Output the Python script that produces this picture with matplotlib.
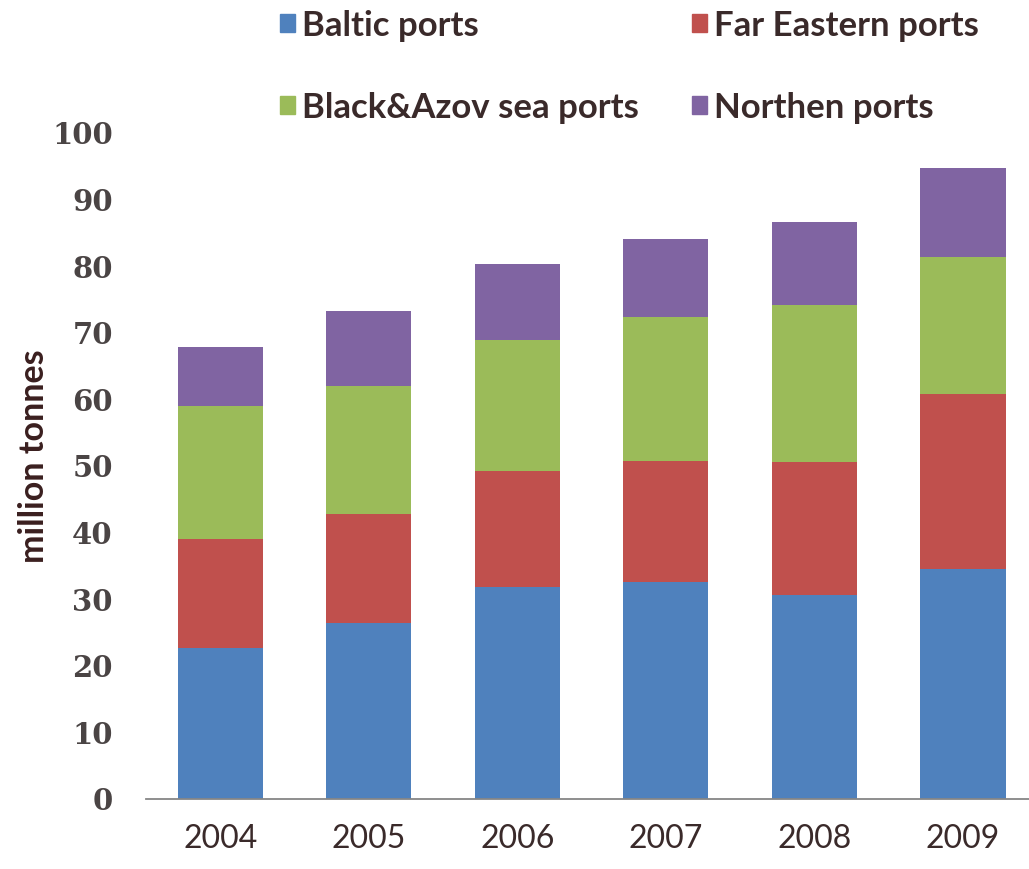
import numpy as np
import matplotlib
matplotlib.use("Agg")
import matplotlib.pyplot as plt
from matplotlib.patches import Patch

# cargo turnover of Russian sea ports, million tonnes
years = ["2004", "2005", "2006", "2007", "2008", "2009"]
baltic = [22.7, 26.4, 31.9, 32.6, 30.6, 34.5]
far_eastern = [16.3, 16.4, 17.4, 18.2, 20.0, 26.3]
black_azov = [20.0, 19.2, 19.6, 21.6, 23.6, 20.6]
northern = [8.9, 11.2, 11.4, 11.7, 12.4, 13.3]

series = [
    ("Baltic ports", baltic, "#4F81BD"),
    ("Far Eastern ports", far_eastern, "#C0504D"),
    ("Black&Azov sea ports", black_azov, "#9BBB59"),
    ("Northen ports", northern, "#8064A2"),
]

narrow = ["Lato", "DejaVu Sans"]
txt_col = "#3a2a2a"

fig = plt.figure(figsize=(10.29, 8.69), dpi=100)
ax = fig.add_axes([0.142, 0.0806, 0.866, 0.7664])

x = np.arange(len(years))
bottom = np.zeros(len(years))
for name, vals, col in series:
    ax.bar(x, vals, width=0.573, bottom=bottom, color=col, label=name)
    bottom += np.array(vals)

ax.set_xlim(-0.5, len(years) - 0.5)
ax.set_ylim(0, 100)
ax.set_yticks(range(0, 101, 10))
ax.set_xticks(x)
ax.set_xticklabels(years, family=narrow, fontsize=23, color=txt_col)
for lab in ax.get_yticklabels():
    lab.set_family(["DejaVu Serif"])
    lab.set_fontweight("bold")
    lab.set_fontsize(21)
    lab.set_color("#4a4444")
ax.tick_params(axis="x", length=0, pad=18)
ax.tick_params(axis="y", length=0, pad=24)

for s in ["top", "right", "left"]:
    ax.spines[s].set_visible(False)
ax.spines["bottom"].set_color("#868686")
ax.spines["bottom"].set_linewidth(1.3)

ax.set_ylabel("million tonnes", family=narrow, fontweight="bold",
              fontsize=24.5, color="#3a1f1f")
ax.yaxis.set_label_coords(-0.108, 0.515)

# legend: two rows, two columns
handles = [Patch(color=c, label=n) for n, _, c in series]
order = [0, 2, 1, 3]
fig.legend([handles[i] for i in order], [handles[i].get_label() for i in order],
           ncol=2, loc="upper left", bbox_to_anchor=(0.242, 1.025),
           frameon=False, handlelength=0.42, handleheight=0.42,
           handletextpad=0.2, columnspacing=1.55, labelspacing=1.45,
           prop={"family": narrow, "weight": "bold", "size": 25},
           labelcolor=txt_col)

fig.savefig("out.png", dpi=100, facecolor="white")
